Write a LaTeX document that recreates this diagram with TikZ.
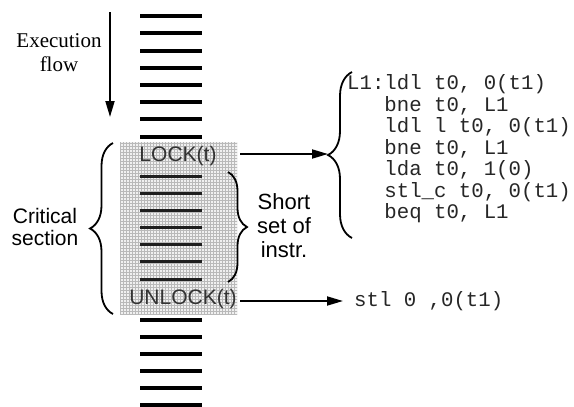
\documentclass[tikz,border=0pt]{standalone}
\usepackage{fontspec}
\setmainfont{Liberation Sans}
\setmonofont{Liberation Mono}
\newfontfamily\timesfont{Liberation Serif}
\usetikzlibrary{arrows.meta,decorations.pathreplacing,patterns}

\tikzset{
	sanstext/.style={font=\fontsize{21}{22.5}\selectfont, align=center},
	serftext/.style={font=\timesfont\fontsize{21}{24}\selectfont, align=center},
	codetext/.style={font=\ttfamily\fontsize{20.7}{21.5}\selectfont, align=left, inner sep=0pt, black!85},
	bar/.style={line width=4pt},
	innerbar/.style={line width=3pt, black!88},
	flowarrow/.style={line width=1.8pt, -{Triangle[length=16pt,width=9pt]}},
	curly/.style={line width=1.8pt, decorate},
	csbox/.style={minimum width=117pt, minimum height=172pt, inner sep=0pt,
		fill=gray!12, postaction={pattern=grid, pattern color=gray!55}}
}

\begin{document}
\begin{tikzpicture}[x=1pt,y=-1pt]
	\useasboundingbox (0,0) rectangle (574,407);
	
	% Critical section box
	\node[csbox] (cs) at (178.5,228) {};
	
	% Instruction bars
	\foreach \y in {16,33,50.5,68,85,102,119,136.5,320,337,354,371,388,404.5}
		\draw[bar] (140,\y) -- (202,\y);
	\foreach \y in {176,193,210.5,227.5,244.5,261.5,279}
		\draw[innerbar] (140,\y) -- (202,\y);
	
	% Labels
	\node[serftext] (exec) at (59,53) {Execution\\flow};
	\node[sanstext, black!80] (lock) at (178,156) {LOCK(t)};
	\node[sanstext, black!80] (unlock) at (183,299) {UNLOCK(t)};
	\node[sanstext] (crit) at (45,227) {Critical\\section};
	\node[sanstext, font=\fontsize{22}{24}\selectfont] (short) at (284,226) {Short\\set of\\instr.};
	
	% Code
	\node[codetext, anchor=west] (code) at (347,149) {L1:ldl t0, 0(t1)\\
		\phantom{L1:}bne t0, L1\\
		\phantom{L1:}ldl l t0, 0(t1)\\
		\phantom{L1:}bne t0, L1\\
		\phantom{L1:}lda t0, 1(0)\\
		\phantom{L1:}stl\_c t0, 0(t1)\\
		\phantom{L1:}beq t0, L1};
	\node[codetext, anchor=west, inner xsep=11pt] (stl) at (343,301) {stl 0 ,0(t1)};
	
	% Brace ends
	\coordinate (crittop) at (113,143);
	\coordinate (critbot) at (113,314);
	\coordinate (shorttop) at (228,172);
	\coordinate (shortbot) at (228,282);
	\coordinate (codetop) at (352,72);
	\coordinate (codebot) at (352,238);
	\coordinate (codetip) at (328,154);
	
	% Braces
	\draw[curly, decoration={brace, amplitude=23pt}] (critbot) -- (crittop);
	\draw[curly, decoration={brace, amplitude=19pt}] (shorttop) -- (shortbot);
	\draw[curly, decoration={brace, amplitude=24pt}] (codebot) -- (codetop);
	
	% Arrows
	\coordinate (flowtop) at (110,12);
	\coordinate (flowbot) at (110,117);
	\draw[flowarrow] (flowtop) -- (flowbot);
	\draw[flowarrow, shorten <=3pt] (cs.east |- codetip) -- (codetip);
	\draw[flowarrow] (unlock.east |- stl.west) -- (stl.west);
	
\end{tikzpicture}
\end{document}
